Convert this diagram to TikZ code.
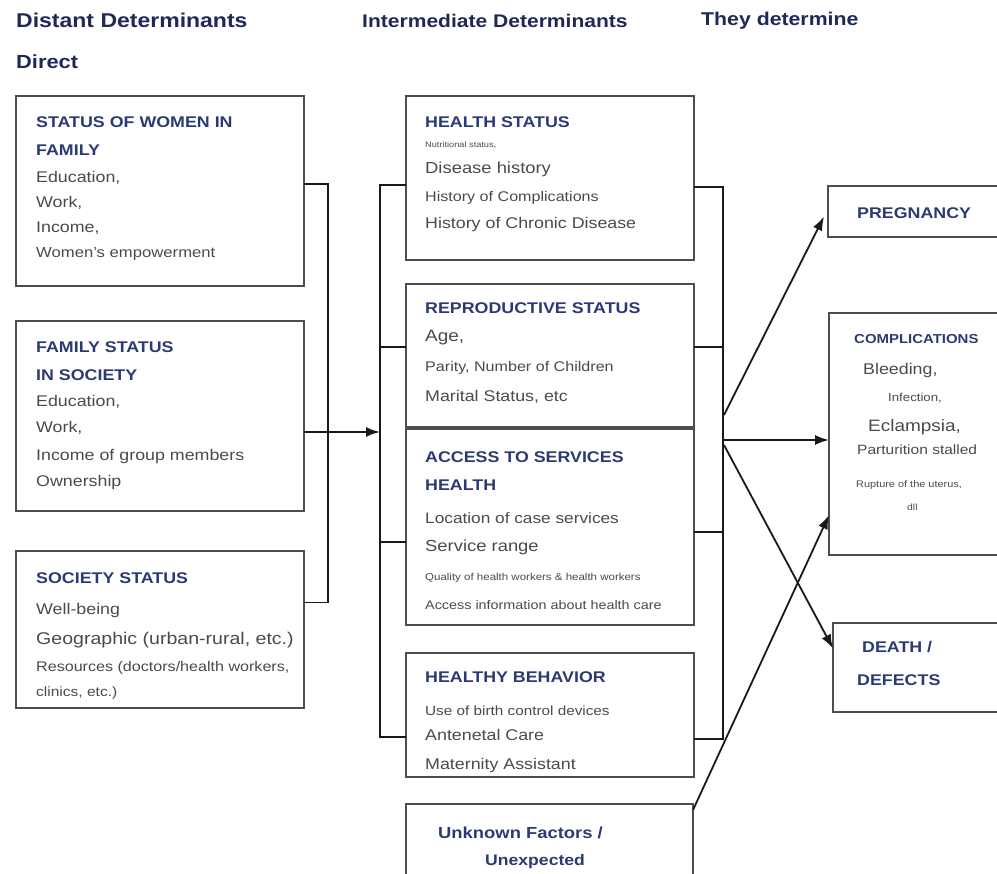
\documentclass[tikz,border=0pt]{standalone}
\usepackage{fontspec}
\setmainfont[FakeStretch=1.15]{Liberation Sans}
\usepackage{tikz}
\usetikzlibrary{arrows.meta}
\definecolor{hdnavy}{HTML}{1F2856}
\definecolor{ttlblue}{HTML}{2C3A73}
\definecolor{bodygray}{HTML}{4A4A4A}
\definecolor{edgegray}{HTML}{4D4D4D}
\tikzset{box/.style={draw=edgegray, line width=1.7pt, anchor=north west, inner sep=0pt, outer sep=0pt}}
\tikzset{hd/.style={anchor=west, inner sep=0pt, text=hdnavy, font=\fontsize{#1}{#1}\selectfont\bfseries}, hd/.default=20}
\tikzset{ttl/.style={anchor=west, inner sep=0pt, text=ttlblue, font=\fontsize{#1}{#1}\selectfont\bfseries}, ttl/.default=15.5}
\tikzset{txt/.style={anchor=west, inner sep=0pt, text=bodygray, font=\fontsize{#1}{#1}\selectfont}, txt/.default=15.5}
\tikzset{link/.style={draw=black!90, line width=1.8pt}, arr/.style={link, -{Latex[length=14pt,width=10pt]}}}

\begin{document}
\begin{tikzpicture}[x=1pt,y=-1pt]
  \useasboundingbox (0,0) rectangle (997,874);
  \clip (0,0) rectangle (997,874);
  % column headings
  \node[hd] (hd-distant) at (16,20) {Distant Determinants};
  \node[hd=19] (hd-direct) at (16,62) {Direct};
  \node[hd=18.3] (hd-inter) at (362,21) {Intermediate Determinants};
  \node[hd=18.5] (hd-they) at (701,21) {They determine};

  % distant determinants
  \node[box, minimum width=288pt, minimum height=190pt] (women) at (16,96) {};
  \node[ttl] (women-1) at (36,122) {STATUS OF WOMEN IN};
  \node[ttl] (women-2) at (36,150) {FAMILY};
  \node[txt] (women-3) at (36,178) {Education,};
  \node[txt] (women-4) at (36,203) {Work,};
  \node[txt] (women-5) at (36,228) {Income,};
  \node[txt=14.5] (women-6) at (36,254) {Women's empowerment};

  \node[box, minimum width=288pt, minimum height=190pt] (family) at (16,321) {};
  \node[ttl] (family-1) at (36,347) {FAMILY STATUS};
  \node[ttl] (family-2) at (36,375) {IN SOCIETY};
  \node[txt] (family-3) at (36,402) {Education,};
  \node[txt] (family-4) at (36,428) {Work,};
  \node[txt] (family-5) at (36,456) {Income of group members};
  \node[txt] (family-6) at (36,482) {Ownership};

  \node[box, minimum width=288pt, minimum height=157pt] (society) at (16,551) {};
  \node[ttl] (society-1) at (36,578) {SOCIETY STATUS};
  \node[txt] (society-2) at (36,610) {Well-being};
  \node[txt=17] (society-3) at (36,640) {Geographic (urban-rural, etc.)};
  \node[txt=14] (society-4) at (36,668) {Resources (doctors/health workers,};
  \node[txt=13.5] (society-5) at (36,693) {clinics, etc.)};

  % intermediate determinants
  \node[box, minimum width=288pt, minimum height=164pt] (health) at (406,96) {};
  \node[ttl] (health-1) at (425,122) {HEALTH STATUS};
  \node[txt=8] (health-2) at (425,145) {Nutritional status,};
  \node[txt=16] (health-3) at (425,169) {Disease history};
  \node[txt=14] (health-4) at (425,198) {History of Complications};
  \node[txt] (health-5) at (425,224) {History of Chronic Disease};

  \node[box, minimum width=288pt, minimum height=143pt] (repro) at (406,284) {};
  \node[ttl] (repro-1) at (425,308) {REPRODUCTIVE STATUS};
  \node[txt=16.5] (repro-2) at (425,338) {Age,};
  \node[txt=14] (repro-3) at (425,368) {Parity, Number of Children};
  \node[txt] (repro-4) at (425,397) {Marital Status, etc};

  \node[box, minimum width=288pt, minimum height=196pt] (access) at (406,429) {};
  \node[ttl] (access-1) at (425,457) {ACCESS TO SERVICES};
  \node[ttl] (access-2) at (425,485) {HEALTH};
  \node[txt=15] (access-3) at (425,518) {Location of case services};
  \node[txt=16] (access-4) at (425,547) {Service range};
  \node[txt=10] (access-5) at (425,578) {Quality of health workers \& health workers};
  \node[txt=12.5] (access-6) at (425,605) {Access information about health care};

  \node[box, minimum width=288pt, minimum height=124pt] (behav) at (406,653) {};
  \node[ttl] (behav-1) at (425,677) {HEALTHY BEHAVIOR};
  \node[txt=13.3] (behav-2) at (425,711) {Use of birth control devices};
  \node[txt] (behav-3) at (425,735) {Antenetal Care};
  \node[txt] (behav-4) at (425,765) {Maternity Assistant};

  \node[box, minimum width=287pt, minimum height=100pt] (unknown) at (406,804) {};
  \node[ttl=16] (unknown-1) at (438,833) {Unknown Factors /};
  \node[ttl=15.3] (unknown-2) at (485,862) {Unexpected};

  % outcomes
  \node[box, minimum width=190pt, minimum height=51pt] (preg) at (828,186) {};
  \node[ttl] (preg-1) at (857,213) {PREGNANCY};

  \node[box, minimum width=190pt, minimum height=242pt] (comp) at (829,313) {};
  \node[ttl=13] (comp-1) at (854,339) {COMPLICATIONS};
  \node[txt] (comp-2) at (863,370) {Bleeding,};
  \node[txt=11.5] (comp-3) at (888,398) {Infection,};
  \node[txt=16.5] (comp-4) at (868,427) {Eclampsia,};
  \node[txt=13.5] (comp-5) at (857,450) {Parturition stalled};
  \node[txt=9.5] (comp-6) at (856,485) {Rupture of the uterus,};
  \node[txt=9] (comp-7) at (907,507) {dll};

  \node[box, minimum width=190pt, minimum height=89pt] (death) at (833,623) {};
  \node[ttl] (death-1) at (862,647) {DEATH /};
  \node[ttl] (death-2) at (857,680) {DEFECTS};

  % connectors
  \coordinate (lbus) at (328,602);
  \coordinate (mbus) at (380,737);
  \coordinate (rbus) at (723,739);
  \draw[link] ([yshift=7pt]women.east) -| ([yshift=27pt]society.east -| lbus) -- ([yshift=27pt]society.east);
  \draw[arr] ([yshift=-16pt]family.east) -- ([yshift=-16pt]family.east -| mbus);

  \draw[link] ([yshift=-7pt]health.west) -| ([yshift=-22pt]behav.west -| mbus) -- ([yshift=-22pt]behav.west);
  \draw[link] ([yshift=8.5pt]repro.west) -- ([yshift=8.5pt]repro.west -| mbus);
  \draw[link] ([yshift=-15pt]access.west) -- ([yshift=-15pt]access.west -| mbus);

  \draw[link] ([yshift=-9pt]health.east) -| ([yshift=-24pt]behav.east -| rbus) -- ([yshift=-24pt]behav.east);
  \draw[link] ([yshift=8.5pt]repro.east) -- ([yshift=8.5pt]repro.east -| rbus);
  \draw[link] ([yshift=-5pt]access.east) -- ([yshift=-5pt]access.east -| rbus);

  \coordinate (fanA) at (724,415);
  \coordinate (fanB) at (724,440);
  \coordinate (fanC) at (724,445);
  \draw[arr] (fanA) -- ([xshift=-4pt,yshift=-5pt]preg.west);
  \draw[arr] (fanB) -- (fanB -| comp.west);
  \draw[arr] (fanC) -- ([yshift=19pt]death.west);
  \draw[arr] ([yshift=-6pt]unknown.north east) -- ([yshift=-81pt]comp.west);
\end{tikzpicture}
\end{document}
